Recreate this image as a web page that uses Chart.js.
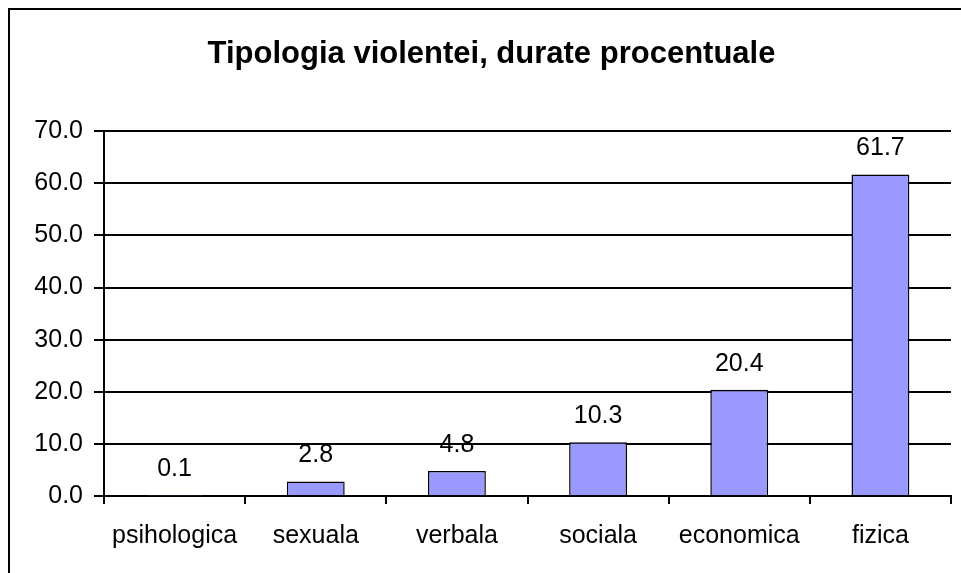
<!DOCTYPE html>
<html>
<head>
<meta charset="utf-8">
<script src="https://cdn.jsdelivr.net/npm/chart.js@4"></script>
<style>
  html, body { margin: 0; padding: 0; background: #fff; }
  #chart { display: block; }
</style>
</head>
<body>
<canvas id="chart" width="961" height="573"></canvas>
<script>
const categories = ['psihologica', 'sexuala', 'verbala', 'sociala', 'economica', 'fizica'];
const percentages = [0.1, 2.8, 4.8, 10.3, 20.4, 61.7];
const titleText = 'Tipologia violentei, durate procentuale';

const FONT = "'Liberation Sans', Arial, sans-serif";

// outer frame of the chart object (right/bottom edges are cut off in the picture)
const framePlugin = {
  id: 'frame',
  beforeDraw(chart) {
    const ctx = chart.ctx;
    ctx.save();
    ctx.fillStyle = '#fff';
    ctx.fillRect(0, 0, chart.width, chart.height);
    ctx.strokeStyle = '#000';
    ctx.lineWidth = 2;
    ctx.strokeRect(9, 9, chart.width + 20, chart.height + 20);
    ctx.restore();
  },
};

// value labels above each bar
const valueLabels = {
  id: 'valueLabels',
  afterDatasetsDraw(chart) {
    const ctx = chart.ctx;
    const meta = chart.getDatasetMeta(0);
    ctx.save();
    ctx.font = `25px ${FONT}`;
    ctx.fillStyle = '#000';
    ctx.textAlign = 'center';
    ctx.textBaseline = 'alphabetic';
    meta.data.forEach((bar, i) => {
      ctx.fillText(percentages[i].toFixed(1), bar.x, bar.y - 19);
    });
    ctx.restore();
  },
};

new Chart(document.getElementById('chart').getContext('2d'), {
  type: 'bar',
  data: {
    labels: categories,
    datasets: [
      {
        data: percentages,
        backgroundColor: '#9999FF',
        borderColor: '#000',
        borderWidth: 1.5,
        categoryPercentage: 1,
        barPercentage: 0.41,
      },
    ],
  },
  options: {
    responsive: false,
    animation: false,
    devicePixelRatio: 1,
    layout: { padding: { left: 32, right: 10, top: 0, bottom: 0 } },
    plugins: {
      legend: { display: false },
      tooltip: { enabled: false },
      title: {
        display: true,
        text: titleText,
        color: '#000',
        font: { family: FONT, size: 31, weight: 'bold' },
        padding: { top: 36, bottom: 58 },
      },
    },
    scales: {
      x: {
        offset: true,
        grid: {
          offset: true,
          drawOnChartArea: false,
          drawTicks: true,
          tickLength: 8,
          color: '#000',
          lineWidth: 2,
        },
        border: { display: true, color: '#000', width: 2 },
        ticks: {
          color: '#000',
          font: { family: FONT, size: 25 },
          padding: 17,
          maxRotation: 0,
        },
        afterFit(scale) {
          scale.height = 77;
        },
      },
      y: {
        min: 0,
        max: 70,
        grid: {
          color: '#000',
          lineWidth: 2,
          drawTicks: true,
          tickLength: 10,
        },
        border: { display: true, color: '#000', width: 2 },
        ticks: {
          stepSize: 10,
          color: '#000',
          font: { family: FONT, size: 25 },
          padding: 11,
          callback: (v) => Number(v).toFixed(1),
        },
        afterFit(scale) {
          scale.width = 72;
        },
      },
    },
  },
  plugins: [framePlugin, valueLabels],
});
</script>
</body>
</html>
